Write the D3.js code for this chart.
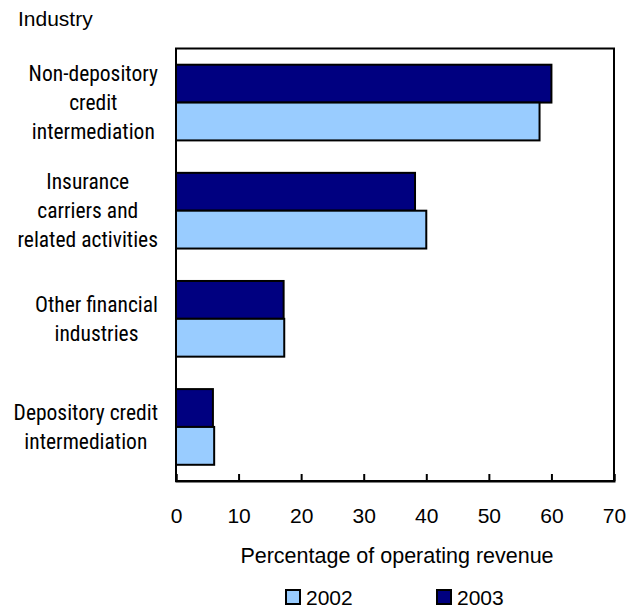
<!DOCTYPE html>
<html>
<head>
<meta charset="utf-8">
<script src="https://cdn.jsdelivr.net/npm/d3@7"></script>
<style>
  html, body { margin: 0; padding: 0; background: #fff; }
  svg { display: block; }
  text { font-family: "Liberation Sans", Arial, Helvetica, sans-serif; fill: #000; }
  .cat { font-family: "Liberation Sans Narrow", "Arial Narrow", "Roboto Condensed", "Liberation Sans", sans-serif; }
</style>
</head>
<body>
<script>
// Share of operating revenue by industry, 2002 and 2003
const industries = [
  ["Non-depository", "credit", "intermediation"],
  ["Insurance", "carriers and", "related activities"],
  ["Other financial", "industries"],
  ["Depository credit", "intermediation"]
];
const years = ["2003", "2002"];
const values2003 = [60.0, 38.2, 17.2, 5.9];
const values2002 = [58.1, 40.0, 17.3, 6.1];
const xTicks = [0, 10, 20, 30, 40, 50, 60, 70];
const colors = { "2002": "#99ccff", "2003": "#000080" };

const W = 639, H = 609;
const plot = { left: 176, right: 614, top: 48.5, bottom: 481 };

const svg = d3.select("body").append("svg").attr("width", W).attr("height", H);

const x = d3.scaleLinear().domain([0, 70]).range([plot.left, plot.right]);
const y = d3.scaleBand().domain(d3.range(industries.length))
  .range([plot.top, plot.bottom]).paddingInner(0.3).paddingOuter(0.15);
const ySub = d3.scaleBand().domain(years).range([0, y.bandwidth()]);

// Bars
const rows = industries.map((lab, i) => ({ i, v: { "2003": values2003[i], "2002": values2002[i] } }));
const g = svg.append("g");
rows.forEach(r => {
  years.forEach(yr => {
    g.append("rect")
      .attr("x", x(0))
      .attr("y", y(r.i) + ySub(yr))
      .attr("width", x(r.v[yr]) - x(0))
      .attr("height", ySub.bandwidth())
      .attr("fill", colors[yr])
      .attr("stroke", "#000")
      .attr("stroke-width", 2);
  });
});

// Frame
svg.append("rect")
  .attr("x", plot.left).attr("y", plot.top)
  .attr("width", plot.right - plot.left).attr("height", plot.bottom - plot.top)
  .attr("fill", "none").attr("stroke", "#000").attr("stroke-width", 2);

// X axis: inward ticks, labels below
const xAxis = d3.axisBottom(x).tickValues(xTicks).tickSize(-7).tickPadding(27).tickFormat(d3.format("d"));
const ax = svg.append("g").attr("transform", `translate(0,${plot.bottom})`).call(xAxis);
ax.select(".domain").attr("stroke", "#000").attr("stroke-width", 2);
ax.selectAll(".tick line").attr("stroke", "#000").attr("stroke-width", 2);
ax.selectAll(".tick text").attr("font-size", 21).attr("font-family", "Liberation Sans, Arial, sans-serif").attr("fill", "#000");

// Category labels
const lineH = 29;
industries.forEach((lines, i) => {
  const t = svg.append("text").attr("class", "cat").attr("font-size", 21.5).attr("text-anchor", "middle");
  const cy = y(i) + y.bandwidth() / 2;
  const startY = cy - (lines.length - 1) * lineH / 2 + 7.5;
  lines.forEach((ln, k) => t.append("tspan").attr("y", startY + k * lineH).text(ln));
  // center each block so its widest line ends at the same right edge
  let maxW = 0;
  t.selectAll("tspan").each(function () { maxW = Math.max(maxW, this.getComputedTextLength()); });
  t.selectAll("tspan").attr("x", 158 - maxW / 2);
});

// Titles
svg.append("text").attr("x", 18).attr("y", 26).attr("font-size", 21).text("Industry");
svg.append("text").attr("x", (plot.left + plot.right) / 2 + 2).attr("y", 563)
  .attr("text-anchor", "middle").attr("font-size", 21.5).text("Percentage of operating revenue");

// Legend
const legend = [{ k: "2002", x: 286 }, { k: "2003", x: 437 }];
legend.forEach(d => {
  svg.append("rect").attr("x", d.x).attr("y", 590).attr("width", 14).attr("height", 14)
    .attr("fill", colors[d.k]).attr("stroke", "#000").attr("stroke-width", 2);
  svg.append("text").attr("x", d.x + 20).attr("y", 605).attr("font-size", 21).text(d.k);
});
</script>
</body>
</html>
